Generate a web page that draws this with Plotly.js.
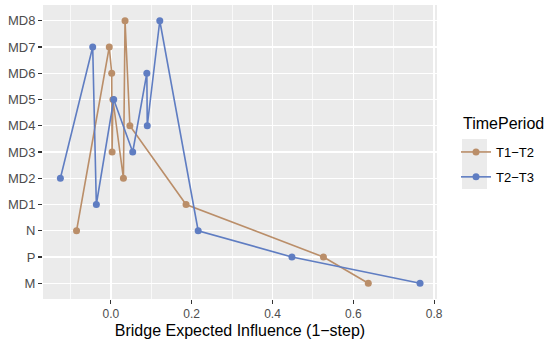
<!DOCTYPE html>
<html>
<head>
<meta charset="utf-8">
<script src="https://cdn.plot.ly/plotly-3.0.1.min.js"></script>
<style>html,body{margin:0;padding:0;background:#fff;}#chart{width:550px;height:344px;}</style>
</head>
<body>
<div id="chart"></div>
<script>
// Categories (bottom to top)
const nodes = ["M","P","N","MD1","MD2","MD3","MD4","MD5","MD6","MD7","MD8"];
// Bridge expected influence (1-step), in the order of nodes
const t1t2 = [0.637, 0.526, -0.085, 0.186, 0.031, 0.003, 0.047, 0.005, 0.002, -0.004, 0.035];
const t2t3 = [0.765, 0.448, 0.216, -0.036, -0.125, 0.054, 0.090, 0.007, 0.089, -0.045, 0.121];
const periods = ["T1\u2212T2", "T2\u2212T3"];
const legendTitle = "TimePeriod";
const colors = ["#BA8E69", "#5F7DC2"];
const xTicks = [0, 0.2, 0.4, 0.6, 0.8];
const xMinor = [-0.1, 0.1, 0.3, 0.5, 0.7];

// geom_line connects points ordered by x value
function sortedTrace(vals, name, color, grp) {
  const idx = vals.map((v, i) => i).sort((a, b) => vals[a] - vals[b]);
  return {
    type: "scatter", mode: "lines+markers", name: name, legendgroup: grp,
    x: idx.map(i => vals[i]), y: idx.map(i => nodes[i]),
    line: {color: color, width: 1.6},
    marker: {color: color, size: 7},
    hoverinfo: "x+y+name"
  };
}

const data = [
  sortedTrace(t1t2, periods[0], colors[0], "a"),
  sortedTrace(t2t3, periods[1], colors[1], "b")
];

// plot area: x 43..437, y 5..299  (paper coords for legend placement)
const px = v => (v - 43) / 394;
const py = v => (299 - v) / 294;

const layout = {
  width: 550, height: 344,
  margin: {l: 43, r: 113, t: 5, b: 45},
  paper_bgcolor: "#ffffff",
  plot_bgcolor: "#EBEBEB",
  font: {family: "Liberation Sans, Arial, sans-serif", color: "#4D4D4D", size: 12},
  xaxis: {
    range: [-0.168, 0.807],
    tickmode: "array", tickvals: xTicks, ticktext: xTicks.map(v => v.toFixed(1)),
    showgrid: true, gridcolor: "#ffffff", gridwidth: 1.4,
    zeroline: false, showline: false,
    ticks: "outside", ticklen: 4, tickwidth: 1.1, tickcolor: "#333333",
    tickfont: {size: 12, color: "#4D4D4D"},
    minor: {tickmode: "array", tickvals: xMinor, showgrid: true, gridcolor: "#ffffff", gridwidth: 0.7, ticklen: 0},
    title: {text: "Bridge Expected Influence (1\u2212step)", font: {size: 16, color: "#000000"}, standoff: 4}
  },
  yaxis: {
    type: "category", categoryorder: "array", categoryarray: nodes,
    range: [-0.6, 10.6],
    showgrid: true, gridcolor: "#ffffff", gridwidth: 1.4,
    zeroline: false, showline: false,
    ticks: "outside", ticklen: 4, tickwidth: 1.1, tickcolor: "#333333",
    tickfont: {size: 13, color: "#4D4D4D"}
  },
  shapes: [
    {type: "rect", xref: "paper", yref: "paper", layer: "above",
     x0: px(462), x1: px(487), y0: py(139), y1: py(189),
     fillcolor: "#EBEBEB", line: {width: 0}}
  ],
  annotations: [
    {text: legendTitle, xref: "paper", yref: "paper", x: px(461), y: py(123),
     xanchor: "left", yanchor: "middle", showarrow: false,
     font: {size: 16, color: "#000000"}}
  ],
  showlegend: true,
  legend: {
    x: px(456), xanchor: "left", y: py(164.5), yanchor: "middle",
    bgcolor: "rgba(0,0,0,0)",
    traceorder: "grouped", tracegroupgap: 5,
    font: {size: 13, color: "#000000"}
  }
};

Plotly.newPlot("chart", data, layout, {staticPlot: true, displayModeBar: false});
</script>
</body>
</html>
